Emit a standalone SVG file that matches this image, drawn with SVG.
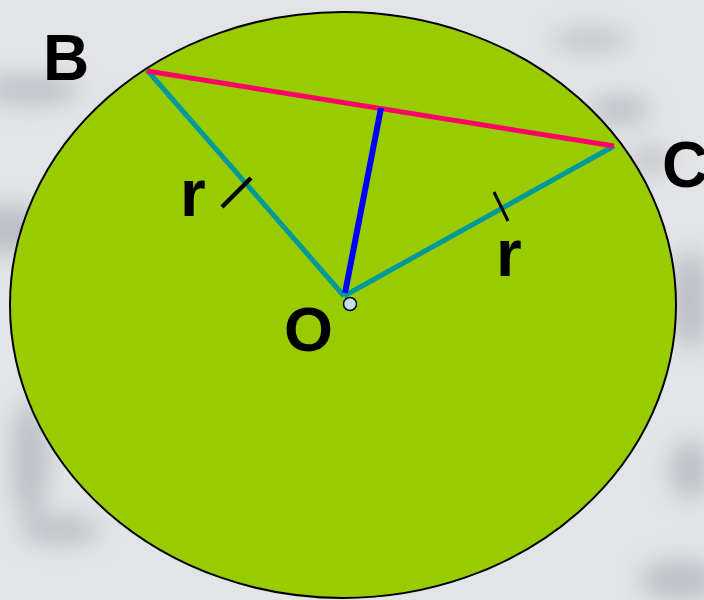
<svg xmlns="http://www.w3.org/2000/svg" width="704" height="600" viewBox="0 0 704 600">
<defs>
<filter id="blur" x="-50%" y="-50%" width="200%" height="200%"><feGaussianBlur stdDeviation="12"/></filter>
<style>
.lbl{font-family:"Liberation Sans",Arial,sans-serif;font-weight:bold;fill:#000}
.rad{stroke:#009999;stroke-width:5;stroke-linecap:butt;fill:none}
.tick{stroke:#000;fill:none}
</style>
</defs>
<g id="background">
<rect width="704" height="600" fill="#e3e4e8"/>
<g filter="url(#blur)" fill="#b0b2b8" opacity="0.75">
<ellipse cx="30" cy="90" rx="50" ry="14"/>
<ellipse cx="10" cy="230" rx="40" ry="25"/>
<ellipse cx="150" cy="110" rx="40" ry="12"/>
<ellipse cx="30" cy="460" rx="18" ry="60"/>
<ellipse cx="60" cy="530" rx="40" ry="14"/>
<ellipse cx="620" cy="110" rx="30" ry="14"/>
<ellipse cx="650" cy="160" rx="20" ry="12"/>
<ellipse cx="690" cy="300" rx="20" ry="50"/>
<ellipse cx="690" cy="470" rx="20" ry="30"/>
<ellipse cx="680" cy="580" rx="40" ry="20"/>
<ellipse cx="590" cy="40" rx="40" ry="10"/>
</g>
</g>
<g id="circle">
<ellipse cx="343" cy="305" rx="333" ry="293" fill="#99cc00" stroke="#000" stroke-width="2"/>
</g>
<g id="connectors">
<line class="rad" x1="147" y1="70" x2="344" y2="296"/>
<line class="rad" x1="614" y1="146" x2="344" y2="296"/>
<line x1="147" y1="71" x2="614" y2="146" stroke="#ff0066" stroke-width="5"/>
<line x1="381" y1="108" x2="345" y2="293" stroke="#0000ff" stroke-width="6"/>
<line class="tick" x1="222" y1="207" x2="251" y2="178" stroke-width="4.5"/>
<line class="tick" x1="494" y1="192" x2="508" y2="221" stroke-width="3"/>
</g>
<g id="O">
<circle cx="350" cy="304" r="6.5" fill="#c0e0e8" stroke="#000" stroke-width="1.5"/>
<text class="lbl" x="284" y="351" font-size="63">O</text>
</g>
<g id="B"><text class="lbl" x="43" y="80" font-size="64">B</text></g>
<g id="C"><text class="lbl" x="662" y="187" font-size="64">C</text></g>
<g id="r1"><text class="lbl" x="180" y="216" font-size="66">r</text></g>
<g id="r2"><text class="lbl" x="496" y="276" font-size="66">r</text></g>
</svg>
